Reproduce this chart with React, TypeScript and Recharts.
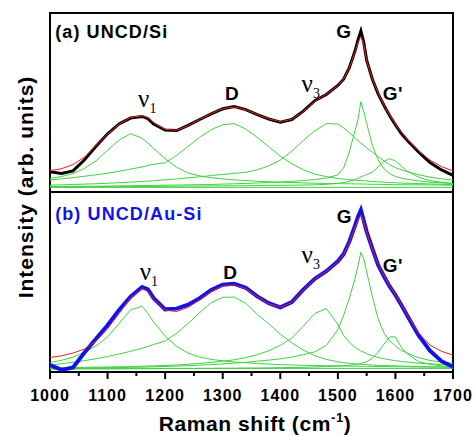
import React from 'react';
import { LineChart, Line, XAxis, YAxis, ReferenceArea, ReferenceDot, Customized } from 'recharts';

// Raman shift grid (cm^-1)
const ramanShift = [1000, 1020, 1040, 1060, 1080, 1100, 1120, 1140, 1160, 1170, 1180, 1200, 1220, 1240, 1260, 1280, 1300, 1320, 1340, 1360, 1380, 1400, 1420, 1440, 1460, 1480, 1500, 1510, 1520, 1530, 1535, 1540, 1545, 1550, 1560, 1570, 1580, 1590, 1600, 1610, 1620, 1640, 1660, 1680, 1700];

// (a) UNCD/Si
const topMeasured = [11.3, 10.3, 11.8, 18.0, 25.5, 32.5, 38.0, 41.3, 42.2, 41.0, 38.0, 34.6, 34.3, 37.2, 40.5, 43.6, 46.5, 47.8, 46.0, 43.2, 40.8, 39.0, 40.5, 45.2, 51.0, 54.5, 59.5, 63.0, 69.5, 79.0, 85.0, 90.0, 83.5, 73.7, 63.0, 54.8, 48.5, 42.6, 37.5, 32.8, 29.0, 22.4, 16.5, 12.3, 9.3];
const topFit = [12.0, 13.0, 15.3, 19.5, 26.0, 32.3, 37.8, 41.6, 42.6, 41.4, 38.8, 35.0, 34.5, 37.0, 40.6, 43.8, 46.6, 47.5, 46.0, 43.3, 40.9, 39.3, 40.6, 45.0, 50.6, 54.6, 59.4, 63.2, 69.2, 78.5, 83.5, 87.0, 82.5, 73.4, 63.2, 55.2, 48.7, 43.0, 38.0, 33.4, 29.6, 23.0, 17.8, 14.2, 11.8];
const topV1 = [7.6, 8.6, 10.3, 13.2, 17.4, 23.3, 29.0, 32.6, 30.0, 27.4, 24.3, 18.6, 13.8, 10.6, 9.0, 8.0, 7.3, 6.8, 6.4, 6.0, 5.7, 5.5, 5.3, 5.1, 4.9, 4.8, 4.7, 4.6, 4.6, 4.5, 4.5, 4.5, 4.4, 4.4, 4.3, 4.3, 4.2, 4.2, 4.1, 4.1, 4.0, 4.0, 3.9, 3.9, 3.8];
const topD = [6.7, 7.3, 8.0, 8.8, 9.6, 10.5, 11.6, 12.8, 14.0, 14.8, 15.5, 16.3, 20.5, 25.5, 30.5, 34.8, 37.6, 38.2, 35.2, 30.5, 25.3, 20.0, 15.8, 12.4, 10.0, 8.6, 7.5, 7.2, 6.9, 6.6, 6.5, 6.4, 6.3, 6.1, 5.9, 5.7, 5.5, 5.3, 5.2, 5.0, 4.9, 4.7, 4.5, 4.3, 4.2];
const topV3 = [3.8, 4.0, 4.2, 4.4, 4.6, 4.9, 5.2, 5.5, 5.9, 6.1, 6.3, 6.8, 7.3, 7.9, 8.5, 9.2, 9.8, 10.4, 11.0, 12.4, 14.6, 17.8, 22.8, 28.8, 34.2, 38.2, 38.0, 35.8, 33.1, 30.2, 28.8, 27.3, 26.0, 24.7, 22.2, 19.7, 17.4, 15.2, 13.6, 12.4, 11.4, 9.7, 8.3, 7.4, 6.7];
const topG = [3.0, 3.1, 3.1, 3.2, 3.2, 3.3, 3.4, 3.5, 3.6, 3.6, 3.7, 3.8, 3.9, 4.0, 4.1, 4.2, 4.4, 4.6, 4.8, 5.0, 5.3, 5.6, 6.0, 6.4, 6.9, 7.8, 9.5, 13.5, 22.5, 34.5, 40.5, 50.5, 45.0, 38.4, 26.0, 17.9, 13.0, 10.2, 8.7, 7.8, 7.2, 6.2, 5.5, 5.1, 4.8];
const topGp = [2.8, 2.8, 2.9, 2.9, 2.9, 3.0, 3.0, 3.0, 3.1, 3.1, 3.1, 3.2, 3.2, 3.3, 3.3, 3.4, 3.4, 3.5, 3.5, 3.6, 3.7, 3.7, 3.8, 3.9, 4.0, 4.3, 4.8, 5.3, 6.0, 7.0, 7.6, 8.4, 9.1, 9.8, 11.0, 14.0, 17.0, 18.7, 17.3, 14.6, 11.8, 8.4, 6.3, 5.4, 4.8];

// (b) UNCD/Au-Si
const bottomMeasured = [3.9, 1.2, 2.5, 10.8, 18.5, 26.0, 34.5, 41.8, 47.2, 45.9, 41.0, 34.8, 35.2, 37.4, 41.0, 45.5, 48.5, 49.0, 46.8, 42.0, 38.2, 35.9, 38.8, 45.8, 51.8, 56.0, 61.5, 65.5, 72.5, 81.5, 86.3, 90.0, 84.0, 78.0, 68.5, 59.4, 53.2, 47.5, 42.8, 37.3, 31.7, 20.4, 11.8, 6.0, 2.9];
const bottomFit = [8.1, 9.0, 10.5, 12.8, 17.2, 24.0, 32.5, 41.2, 46.3, 44.8, 40.5, 34.4, 33.6, 36.0, 40.0, 44.8, 47.8, 48.4, 46.3, 41.8, 38.0, 36.0, 38.6, 45.5, 51.6, 55.8, 61.2, 65.3, 72.0, 80.5, 84.5, 87.2, 83.0, 77.5, 68.3, 59.8, 53.5, 47.8, 43.0, 37.6, 32.0, 21.8, 15.0, 11.5, 9.4];
const bottomV1 = [5.2, 6.5, 8.3, 11.0, 14.5, 19.5, 27.0, 34.5, 36.5, 32.5, 27.8, 20.0, 14.2, 10.5, 8.3, 7.0, 6.2, 5.6, 5.1, 4.7, 4.4, 4.1, 3.9, 3.7, 3.6, 3.5, 3.4, 3.3, 3.3, 3.2, 3.2, 3.2, 3.2, 3.1, 3.1, 3.0, 3.0, 3.0, 2.9, 2.9, 2.9, 2.8, 2.8, 2.7, 2.7];
const bottomD = [3.9, 4.6, 5.4, 6.3, 7.4, 8.6, 10.0, 11.5, 13.2, 14.2, 15.3, 17.2, 21.5, 27.0, 33.0, 38.5, 41.5, 41.6, 38.2, 32.0, 26.8, 21.0, 16.2, 12.2, 9.0, 7.0, 5.7, 5.2, 4.8, 4.5, 4.4, 4.3, 4.2, 4.1, 3.9, 3.7, 3.6, 3.5, 3.4, 3.3, 3.2, 3.0, 2.9, 2.8, 2.7];
const bottomV3 = [2.3, 2.4, 2.5, 2.6, 2.7, 2.8, 2.9, 3.0, 3.2, 3.3, 3.4, 3.6, 3.9, 4.3, 4.8, 5.3, 6.0, 6.8, 8.0, 9.6, 11.8, 14.8, 18.8, 25.5, 32.5, 35.2, 26.5, 20.3, 16.5, 13.6, 12.6, 11.7, 11.0, 10.2, 9.0, 8.1, 7.4, 6.8, 6.3, 5.9, 5.5, 4.9, 4.5, 4.2, 3.9];
const bottomG = [2.0, 2.1, 2.1, 2.2, 2.3, 2.4, 2.5, 2.6, 2.7, 2.8, 2.9, 3.1, 3.3, 3.5, 3.8, 4.1, 4.5, 4.9, 5.4, 6.0, 6.6, 7.3, 8.3, 9.6, 11.2, 14.8, 23.5, 31.5, 41.0, 52.0, 59.0, 66.5, 62.8, 55.7, 41.8, 29.5, 21.8, 17.3, 14.5, 12.0, 10.6, 8.0, 6.4, 5.5, 4.8];
const bottomGp = [1.6, 1.6, 1.6, 1.7, 1.7, 1.7, 1.7, 1.8, 1.8, 1.8, 1.8, 1.9, 1.9, 1.9, 2.0, 2.0, 2.1, 2.1, 2.2, 2.2, 2.3, 2.4, 2.5, 2.6, 2.8, 3.0, 3.3, 3.5, 3.7, 4.1, 4.4, 4.8, 5.2, 5.8, 7.6, 11.0, 15.4, 19.5, 19.5, 13.9, 10.3, 5.8, 4.3, 3.4, 2.9];

// flat fit baselines
const baselineShift = [1000, 1700];
const topBaseline = [2.6, 2.6];
const bottomBaseline = [2.0, 2.0];

const shiftTicks = [1000, 1050, 1100, 1150, 1200, 1250, 1300, 1350, 1400, 1450, 1500, 1550, 1600, 1650, 1700];

// peak annotations: [text, subscript, shift, intensity]
const topNotes: [string, string, number, number][] = [
  ['G', '', 1497, 86.0],
  ['D', '', 1304, 51.4],
  ['ν', '1', 1153, 47.5],
  ['ν', '3', 1437, 55.9],
  ["G'", '', 1578, 51.4],
];
const bottomNotes: [string, string, number, number][] = [
  ['G', '', 1498, 82.8],
  ['D', '', 1301, 51.7],
  ['ν', '1', 1156, 51.1],
  ['ν', '3', 1437, 60.6],
  ["G'", '', 1578, 55.6],
];

const SANS = 'Liberation Sans, Arial, sans-serif';
const SERIF = 'Liberation Serif, Times New Roman, serif';
const GREEN = '#3fd23f';

function rows(series: Record<string, number[]>) {
  return ramanShift.map((s, i) => {
    const r: Record<string, number> = { shift: s };
    Object.keys(series).forEach((k) => { r[k] = series[k][i]; });
    return r;
  });
}

function baseRows(vals: number[]) {
  return baselineShift.map((s, i) => ({ shift: s, base: vals[i] }));
}

const topRows = rows({ meas: topMeasured, fit: topFit, v1: topV1, d: topD, v3: topV3, g: topG, gp: topGp });
const bottomRows = rows({ meas: bottomMeasured, fit: bottomFit, v1: bottomV1, d: bottomD, v3: bottomV3, g: bottomG, gp: bottomGp });

function noteShape(text: string, sub: string) {
  return (p: any) => {
    const greek = text === 'ν';
    return (
      <text x={p.cx} y={p.cy} fill="#000" textAnchor="start">
        <tspan fontFamily={greek ? SERIF : SANS} fontWeight={greek ? 'normal' : 'bold'} fontSize={greek ? 25 : 19} letterSpacing={greek ? 0 : 0.5}>{text}</tspan>
        {sub ? <tspan fontFamily={SERIF} fontSize={14} dy={6}>{sub}</tspan> : null}
      </text>
    );
  };
}

function ShiftTick(props: any) {
  const { x, y, payload } = props;
  const major = payload.value % 100 === 0;
  return (
    <g>
      <line x1={x} x2={x} y1={y} y2={y + (major ? 7 : 4)} stroke="#000" strokeWidth={2} />
      {major ? (
        <text x={x} y={y + 28.5} textAnchor="middle" fontFamily={SANS} fontWeight="bold" fontSize={16} letterSpacing={1} fill="#000">
          {payload.value}
        </text>
      ) : null}
    </g>
  );
}

function Titles() {
  return (
    <g>
      <text transform="translate(33,187) rotate(-90)" textAnchor="middle" fontFamily={SANS} fontWeight="bold" fontSize={21} letterSpacing={1} fill="#000">
        Intensity (arb. units)
      </text>
      <text x={255} y={431} textAnchor="middle" fontFamily={SANS} fontWeight="bold" fontSize={21} letterSpacing={0.6} fill="#000">
        Raman shift (cm<tspan fontSize={13} dy={-9}>-1</tspan><tspan dy={9}>)</tspan>
      </text>
    </g>
  );
}

function Components({ data, base }: { data: any[]; base: number[] }) {
  return null;
}

const W = 474;
const H = 436;

export default function App() {
  const componentKeys = ['v1', 'd', 'v3', 'g', 'gp'];
  return (
    <div style={{ position: 'absolute', left: 0, top: 0, width: W, height: H, background: '#fff' }}>
      <LineChart width={W} height={H} data={bottomRows} margin={{ top: 192, right: 21, bottom: 0, left: 50 }} style={{ position: 'absolute', left: 0, top: 0 }}>
        <XAxis type="number" dataKey="shift" domain={[1000, 1700]} ticks={shiftTicks} interval={0} height={64} tickSize={0} tickMargin={0} tickLine={false} axisLine={false} tick={<ShiftTick />} />
        <YAxis type="number" domain={[0, 100]} hide />
        <Line data={baseRows(bottomBaseline)} dataKey="base" stroke={GREEN} strokeWidth={1} dot={false} isAnimationActive={false} />
        {componentKeys.map((k) => (
          <Line key={k} dataKey={k} type="linear" stroke={GREEN} strokeWidth={1} dot={false} isAnimationActive={false} />
        ))}
        <Line dataKey="meas" type="linear" stroke="#1212e8" strokeWidth={4} dot={false} isAnimationActive={false} />
        <Line dataKey="fit" type="linear" stroke="#e8201e" strokeWidth={1} dot={false} isAnimationActive={false} />
        <ReferenceArea x1={1000} x2={1700} y1={0} y2={100} fill="none" fillOpacity={0} stroke="#000" strokeWidth={2} ifOverflow="visible" />
        <ReferenceDot x={1009} y={84.4} r={0} ifOverflow="visible" shape={(p: any) => (
          <text x={p.cx} y={p.cy} fontFamily={SANS} fontWeight="bold" fontSize={18} letterSpacing={1.1} fill="#1212e8">(b) UNCD/Au-Si</text>
        )} />
        {bottomNotes.map((n, i) => (
          <ReferenceDot key={i} x={n[2]} y={n[3]} r={0} ifOverflow="visible" shape={noteShape(n[0], n[1])} />
        ))}
        <Customized component={Titles} />
      </LineChart>
      <LineChart width={W} height={H} data={topRows} margin={{ top: 13, right: 21, bottom: 244, left: 50 }} style={{ position: 'absolute', left: 0, top: 0 }}>
        <XAxis type="number" dataKey="shift" domain={[1000, 1700]} hide />
        <YAxis type="number" domain={[0, 100]} hide />
        <Line data={baseRows(topBaseline)} dataKey="base" stroke={GREEN} strokeWidth={1} dot={false} isAnimationActive={false} />
        {componentKeys.map((k) => (
          <Line key={k} dataKey={k} type="linear" stroke={GREEN} strokeWidth={1} dot={false} isAnimationActive={false} />
        ))}
        <Line dataKey="meas" type="linear" stroke="#000" strokeWidth={3} dot={false} isAnimationActive={false} />
        <Line dataKey="fit" type="linear" stroke="#e8201e" strokeWidth={1} dot={false} isAnimationActive={false} />
        <ReferenceArea x1={1000} x2={1700} y1={0} y2={100} fill="none" fillOpacity={0} stroke="#000" strokeWidth={2} ifOverflow="visible" />
        <ReferenceDot x={1009} y={86.0} r={0} ifOverflow="visible" shape={(p: any) => (
          <text x={p.cx} y={p.cy} fontFamily={SANS} fontWeight="bold" fontSize={18} letterSpacing={1.1} fill="#000">(a) UNCD/Si</text>
        )} />
        {topNotes.map((n, i) => (
          <ReferenceDot key={i} x={n[2]} y={n[3]} r={0} ifOverflow="visible" shape={noteShape(n[0], n[1])} />
        ))}
      </LineChart>
    </div>
  );
}
